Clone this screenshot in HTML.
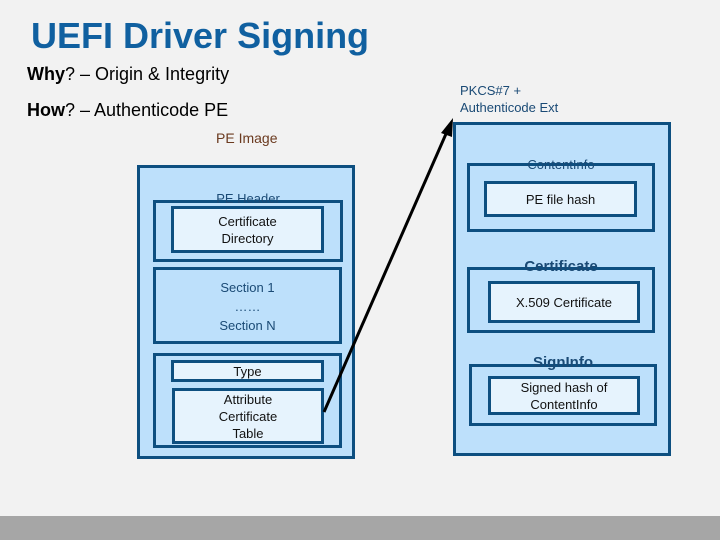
<!DOCTYPE html>
<html><head><meta charset="utf-8"><style>
body{margin:0;width:720px;height:540px;background:#f2f2f2;position:relative;overflow:hidden;font-family:"Liberation Sans",Arial,sans-serif}
div{position:absolute;box-sizing:border-box}
.o{background:#bde0fb;border:3px solid #0d4f80}
.i{background:#e6f3fd;border:3px solid #0d4f80;color:#111;font-size:13px;text-align:center;display:flex;align-items:center;justify-content:center;line-height:17px}
.t{font-size:13px;color:#1a4a75;text-align:center}
.b{font-size:15px;font-weight:bold;color:#1a4a75;text-align:center}
</style></head><body>
<div style="left:31px;top:15px;font-size:36px;font-weight:bold;color:#1060a0;white-space:nowrap">UEFI Driver Signing</div>
<div style="left:27px;top:64px;font-size:18px;white-space:nowrap"><b>Why</b>? – Origin &amp; Integrity</div>
<div style="left:27px;top:100px;font-size:18px;white-space:nowrap"><b>How</b>? – Authenticode PE</div>
<div style="left:216px;top:130px;font-size:14px;color:#6b3a1f;white-space:nowrap">PE Image</div>
<div style="left:460px;top:82px;font-size:13px;color:#1a4a75;line-height:17px">PKCS#7 +<br>Authenticode Ext</div>

<div class="o" style="left:137px;top:165px;width:218px;height:294px"></div>
<div class="o" style="left:153px;top:200px;width:190px;height:62px"></div>
<div class="t" style="left:153px;top:191px;width:190px">PE Header</div>
<div class="i" style="left:171px;top:206px;width:153px;height:47px">Certificate<br>Directory</div>
<div class="o" style="left:153px;top:267px;width:189px;height:77px"></div>
<div class="t" style="left:153px;top:278px;width:189px;line-height:19px">Section 1<br>……<br>Section N</div>
<div class="o" style="left:153px;top:353px;width:189px;height:95px"></div>
<div class="i" style="left:171px;top:360px;width:153px;height:22px">Type</div>
<div class="i" style="left:172px;top:388px;width:152px;height:56px">Attribute<br>Certificate<br>Table</div>

<div class="o" style="left:453px;top:122px;width:218px;height:334px"></div>
<div class="o" style="left:467px;top:163px;width:188px;height:69px"></div>
<div class="t" style="left:467px;top:157px;width:188px">ContentInfo</div>
<div class="i" style="left:484px;top:181px;width:153px;height:36px">PE file hash</div>
<div class="o" style="left:467px;top:267px;width:188px;height:66px"></div>
<div class="b" style="left:467px;top:258px;width:188px">Certificate</div>
<div class="i" style="left:488px;top:281px;width:152px;height:42px">X.509 Certificate</div>
<div class="o" style="left:469px;top:364px;width:188px;height:62px"></div>
<div class="b" style="left:469px;top:354px;width:188px">SignInfo</div>
<div class="i" style="left:488px;top:376px;width:152px;height:39px">Signed hash of<br>ContentInfo</div>

<svg style="position:absolute;left:0;top:0" width="720" height="540">
<line x1="324" y1="412" x2="449" y2="127" stroke="#000" stroke-width="3"/>
<polygon points="453,118 441,133 452,137" fill="#000"/>
</svg>
<div style="left:0;top:516px;width:720px;height:24px;background:#a6a6a6"></div>
</body></html>
